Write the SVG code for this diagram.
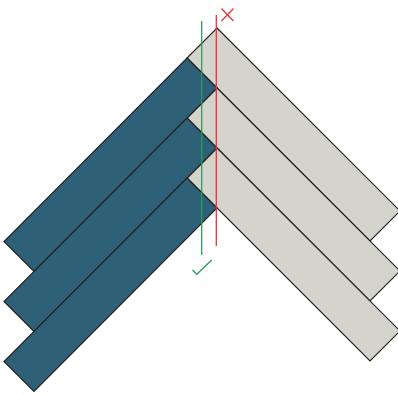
<svg xmlns="http://www.w3.org/2000/svg" width="398" height="394" viewBox="0 0 398 394">
<style>
.blue{fill:#2e6177;stroke:#222;stroke-width:1.2;stroke-linejoin:miter}
.gray{fill:#d4d4cc;stroke:#222;stroke-width:1.2}
.red{stroke:#f0303c;stroke-width:1.3;fill:none}
.green{stroke:#2a9d5c;stroke-width:1.3;fill:none}
</style>
<rect width="398" height="394" fill="#ffffff"/>
<g id="gray-plank-1"><polygon class="gray" points="217,28 400,211 370,241 187,58"/></g>
<g id="gray-plank-2"><polygon class="gray" points="217,88 400,271 370,301 187,118"/></g>
<g id="gray-plank-3"><polygon class="gray" points="217,148 400,331 370,361 187,178"/></g>
<g id="blue-plank-1"><polygon class="blue" points="187,58 217,88 34,271.5 4,241.5"/></g>
<g id="blue-plank-2"><polygon class="blue" points="187,118 217,148 34,331.5 4,301.5"/></g>
<g id="blue-plank-3"><polygon class="blue" points="187,178 217,208 34,391.5 4,361.5"/></g>
<g id="connectors">
<line class="green" x1="201.7" y1="21" x2="201.7" y2="255"/>
<line class="red" x1="216.3" y1="15" x2="216.3" y2="246"/>
</g>
<g id="mark-x"><path class="red" d="M221.5,8.5 L233.5,21 M233.5,8.5 L221.5,21"/></g>
<g id="mark-check"><path class="green" d="M192.5,270 L196.8,274.3 L211.7,260"/></g>
</svg>
